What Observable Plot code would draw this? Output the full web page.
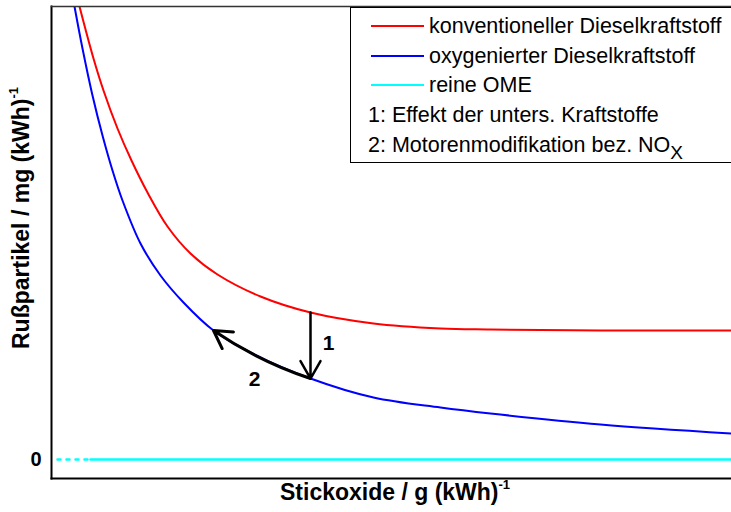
<!DOCTYPE html>
<html>
<head>
<meta charset="utf-8">
<script src="https://cdn.jsdelivr.net/npm/d3@7"></script>
<script src="https://cdn.jsdelivr.net/npm/@observablehq/plot@0.6"></script>
<style>
  html, body { margin: 0; padding: 0; background: #fff; }
  #wrap { position: relative; width: 731px; height: 512px; overflow: hidden; font-family: "Liberation Sans", Arial, sans-serif; }
  #legend { position: absolute; left: 350px; top: 7px; width: 420px; height: 156px; border: 1px solid #000; background: #fff; box-sizing: border-box; }
  .row { position: absolute; font-size: 21.5px; line-height: 26px; color: #000; white-space: nowrap; }
  .sw { position: absolute; width: 53px; height: 2px; }
  .lbl { position: absolute; font-weight: bold; font-size: 23px; line-height: 28px; color: #000; white-space: nowrap; }
  sup { font-size: 13px; vertical-align: 11px; line-height: 0; }
  sub { font-size: 19px; vertical-align: -7px; line-height: 0; }
</style>
</head>
<body>
<div id="wrap"></div>
<script>
// Conventional diesel (red)
const redX = [0.28, 0.42, 0.52, 0.66, 0.80, 0.96, 1.16, 1.39, 1.66, 2.09, 2.59, 3.22, 3.89, 4.39, 5.49, 6.80];
const redY = [4.53, 4.01, 3.69, 3.31, 2.99, 2.67, 2.33, 2.06, 1.85, 1.63, 1.47, 1.36, 1.31, 1.30, 1.29, 1.29];
// Oxygenated diesel (blue)
const blueX = [0.23, 0.31, 0.41, 0.51, 0.61, 0.71, 0.89, 1.09, 1.32, 1.62, 1.99, 2.59, 3.22, 3.89, 4.39, 5.49, 6.80];
const blueY = [4.53, 4.11, 3.64, 3.24, 2.89, 2.59, 2.16, 1.84, 1.57, 1.29, 1.07, 0.81, 0.62, 0.52, 0.46, 0.35, 0.26];
// Pure OME (cyan)
const omeDottedX = [0.06, 0.39];
const omeSolidX = [0.39, 6.80];
const omeY = 0;
// Arrows and labels
const arrow1 = {x1: 2.59, y1: 1.47, x2: 2.59, y2: 0.81};
const arrow2 = {x1: 2.59, y1: 0.81, x2: 1.62, y2: 1.29};
const annLabels = [{x: 2.77, y: 1.16, t: "1"}, {x: 2.03, y: 0.80, t: "2"}];
const yTicks = [0];
const legendItems = [
  {label: "konventioneller Dieselkraftstoff", color: "#ff0000"},
  {label: "oxygenierter Dieselkraftstoff", color: "#0000ff"},
  {label: "reine OME", color: "#00ffff"},
  {label: "1: Effekt der unters. Kraftstoffe", color: null},
  {label: "2: Motorenmodifikation bez. NO<sub>X</sub>", color: null}
];

const red = redX.map((x, i) => ({x, y: redY[i]}));
const blue = blueX.map((x, i) => ({x, y: blueY[i]}));
const omeD = omeDottedX.map(x => ({x, y: omeY}));
const omeS = omeSolidX.map(x => ({x, y: omeY}));

const chart = Plot.plot({
  width: 731,
  height: 512,
  marginLeft: 51,
  marginRight: 0,
  marginTop: 6,
  marginBottom: 34,
  style: {fontFamily: "Liberation Sans, Arial, sans-serif", background: "transparent"},
  x: {domain: [0, 6.8], axis: null},
  y: {domain: [-0.19, 4.53]},
  marks: [
    Plot.line(omeD, {x: "x", y: "y", stroke: "#00ffff", strokeWidth: 2.5, strokeDasharray: "3,6"}),
    Plot.line(omeS, {x: "x", y: "y", stroke: "#00ffff", strokeWidth: 2.5}),
    Plot.line(red, {x: "x", y: "y", stroke: "#ff0000", strokeWidth: 2, curve: "catmull-rom", clip: true}),
    Plot.line(blue, {x: "x", y: "y", stroke: "#0000ff", strokeWidth: 2, curve: "catmull-rom", clip: true}),
    Plot.arrow([arrow1], {x1: "x1", y1: "y1", x2: "x2", y2: "y2", stroke: "#000", strokeWidth: 2.5, headLength: 12}),
    Plot.arrow([arrow2], {x1: "x1", y1: "y1", x2: "x2", y2: "y2", stroke: "#000", strokeWidth: 3, headLength: 10, bend: 8}),
    Plot.text(annLabels, {x: "x", y: "y", text: "t", fontSize: 21, fontWeight: "bold", fill: "#000"}),
    Plot.axisY(yTicks, {tickSize: 0, tickPadding: 10, fontSize: 20, fontWeight: "bold", label: null, tickFormat: d => String(d), color: "#000"}),
    Plot.frame({anchor: "left", stroke: "#000", strokeWidth: 2}),
    Plot.frame({anchor: "bottom", stroke: "#000", strokeWidth: 2}),
    Plot.frame({anchor: "top", stroke: "#333", strokeWidth: 1.5})
  ]
});

const wrap = document.getElementById("wrap");
wrap.appendChild(chart);
chart.style.position = "absolute";
chart.style.left = "0px";
chart.style.top = "0px";

// Legend
const legend = document.createElement("div");
legend.id = "legend";
legendItems.forEach((it, i) => {
  const cy = 18 + i * 29.7;
  if (it.color) {
    const sw = document.createElement("div");
    sw.className = "sw";
    sw.style.left = "20px";
    sw.style.top = (cy - 1) + "px";
    sw.style.background = it.color;
    legend.appendChild(sw);
  }
  const r = document.createElement("div");
  r.className = "row";
  r.style.left = it.color ? "78px" : "17px";
  r.style.top = (cy - 13) + "px";
  r.innerHTML = it.label;
  legend.appendChild(r);
});
wrap.appendChild(legend);

// Axis titles
const xl = document.createElement("div");
xl.className = "lbl";
xl.innerHTML = "Stickoxide / g (kWh)<sup>-1</sup>";
xl.style.left = "0px";
xl.style.top = "478px";
wrap.appendChild(xl);
xl.style.left = (395 - xl.offsetWidth / 2) + "px";

const yl = document.createElement("div");
yl.className = "lbl";
yl.innerHTML = "Rußpartikel / mg (kWh)<sup>-1</sup>";
wrap.appendChild(yl);
const w = yl.offsetWidth, h = yl.offsetHeight;
yl.style.left = (21 - w / 2) + "px";
yl.style.top = (218 - h / 2) + "px";
yl.style.transform = "rotate(-90deg)";
</script>
</body>
</html>
